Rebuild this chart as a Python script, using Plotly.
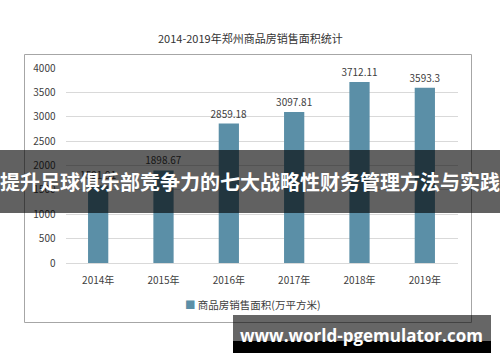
import plotly.graph_objects as go

W, H = 500, 362

years = ["2014年", "2015年", "2016年", "2017年", "2018年", "2019年"]
values = [1591.91, 1898.67, 2859.18, 3097.81, 3712.11, 3593.3]
value_labels = ["1591.91", "1898.67", "2859.18", "3097.81", "3712.11", "3593.3"]
y_ticks = [0, 500, 1000, 1500, 2000, 2500, 3000, 3500, 4000]
title_text = "2014-2019年郑州商品房销售面积统计"
series_name = "商品房销售面积(万平方米)"
banner_text = "提升足球俱乐部竞争力的七大战略性财务管理方法与实践"
watermark_text = "www.world-pgemulator.com"

def px_x(x):
    return x / W

def px_y(y):
    return 1 - y / H

BAR = "#5b8fa7"
FONT = "Noto Sans CJK SC"

fig = go.Figure()
fig.add_trace(go.Bar(
    x=years, y=values, name=series_name,
    marker=dict(color=BAR, line=dict(width=0)),
    text=value_labels, textposition="outside", cliponaxis=False,
    constraintext="none",
    textfont=dict(size=10, color="#404040", family=FONT),
    showlegend=False,
))

fig.update_layout(
    width=W, height=H,
    margin=dict(l=0, r=0, t=0, b=0),
    paper_bgcolor="white", plot_bgcolor="white",
    bargap=0.69,
    font=dict(family=FONT, color="#404040", size=10),
    showlegend=False,
    xaxis=dict(domain=[px_x(65.5), px_x(457.5)], showgrid=False, showline=False,
               ticks="", ticklabelstandoff=10,
               tickfont=dict(size=10, color="#404040"), automargin=False),
    yaxis=dict(domain=[px_y(263), px_y(68)], range=[0, 4000], tickvals=y_ticks,
               showgrid=True, gridcolor="#d9d9d9", gridwidth=1, zeroline=True,
               zerolinecolor="#d9d9d9", zerolinewidth=1, showline=False, ticks="",
               ticklabelstandoff=9, tickfont=dict(size=10, color="#404040"),
               automargin=False),
)

# Chart border
fig.add_shape(type="rect", xref="paper", yref="paper",
              x0=px_x(24.5), x1=px_x(471.5), y0=px_y(322.5), y1=px_y(54.5),
              line=dict(color="#a6a6a6", width=1), fillcolor="rgba(0,0,0,0)", layer="below")

# Title
fig.add_annotation(text=title_text, xref="paper", yref="paper", x=0.5, y=px_y(38),
                   xanchor="center", yanchor="middle", showarrow=False,
                   font=dict(size=11, color="#333333", family=FONT))

# Legend (as annotation for compact marker)
fig.add_annotation(text='<span style="color:%s">■</span> %s' % (BAR, series_name),
                   xref="paper", yref="paper", x=px_x(252), y=px_y(304),
                   xanchor="center", yanchor="middle", showarrow=False,
                   font=dict(size=10.5, color="#404040", family=FONT))

# Banner overlay
fig.add_shape(type="rect", xref="paper", yref="paper",
              x0=0, x1=1, y0=px_y(213), y1=px_y(150),
              line=dict(width=0), fillcolor="rgba(0,0,0,0.62)", layer="above")
fig.add_annotation(text="<b>" + banner_text + "</b>", xref="paper", yref="paper",
                   x=0.5, y=px_y(181), xanchor="center", yanchor="middle", showarrow=False,
                   font=dict(size=20, color="white", family=FONT))

# Watermark
fig.add_shape(type="rect", xref="paper", yref="paper",
              x0=px_x(233), x1=px_x(491), y0=px_y(341), y1=px_y(315),
              line=dict(width=0), fillcolor="rgba(0,0,0,0.6)", layer="above")
fig.add_shape(type="rect", xref="paper", yref="paper",
              x0=px_x(233), x1=px_x(491), y0=px_y(353), y1=px_y(341),
              line=dict(width=0), fillcolor="black", layer="above")
fig.add_annotation(text="<b>" + watermark_text + "</b>", xref="paper", yref="paper",
                   x=px_x(361), y=px_y(335), xanchor="center", yanchor="middle", showarrow=False,
                   font=dict(size=17, color="white", family="Open Sans"))

fig.write_html("out.html", config={"displayModeBar": False},
               post_script="document.body.style.margin='0';document.body.style.overflow='hidden';")
